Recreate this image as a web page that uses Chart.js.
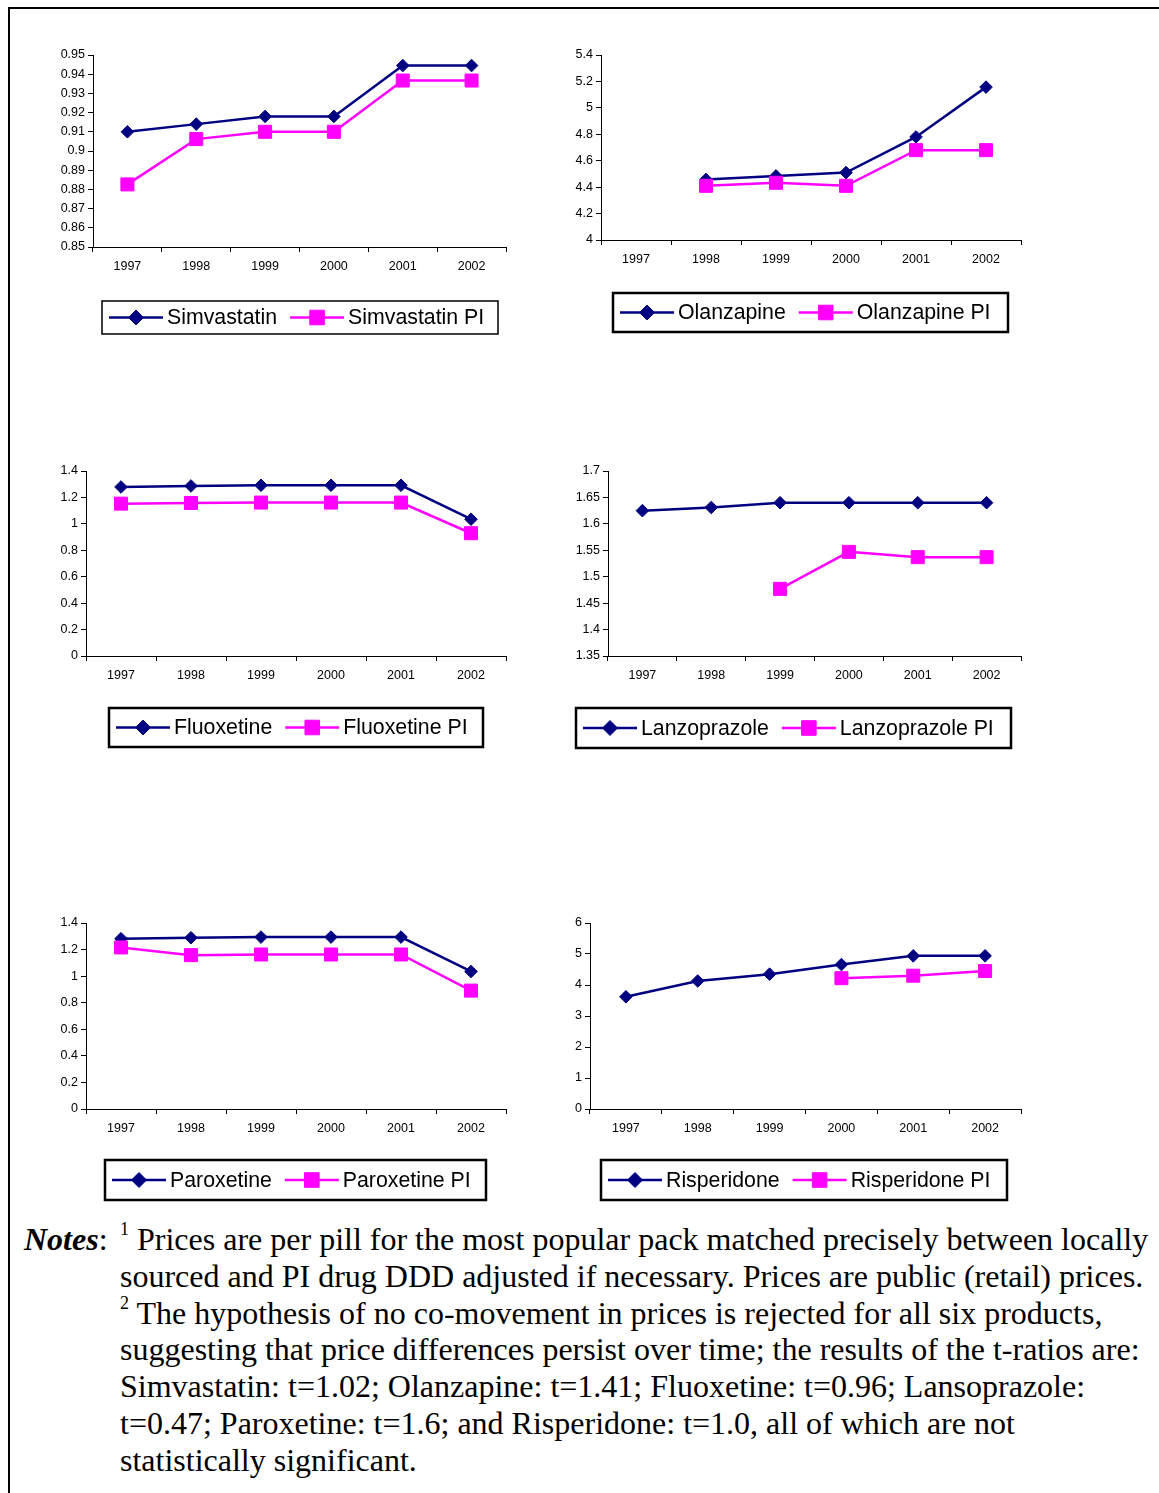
<!DOCTYPE html>
<html><head><meta charset="utf-8">
<script src="https://cdn.jsdelivr.net/npm/chart.js@4.4.0/dist/chart.umd.min.js"></script>
<style>
html,body{margin:0;padding:0;background:#fff;}
body{width:1159px;height:1493px;position:relative;overflow:hidden;}
#frame{position:absolute;left:8px;top:7px;width:1300px;height:1700px;border-left:2px solid #000;border-top:2px solid #000;}
.chartbox{position:absolute;}
.note{position:absolute;font-family:"Liberation Serif","Times New Roman",serif;font-size:32px;line-height:32px;white-space:nowrap;color:#000;}
.note sup{font-size:18px;line-height:0;vertical-align:baseline;position:relative;top:-15px;}
</style></head>
<body>
<div id="frame"></div>
<div class="note" style="left:24px;top:1223px;"><b><i>Notes</i></b>:</div>
<div class="note" style="left:120px;top:1223px;"><sup>1</sup> Prices are per pill for the most popular pack matched precisely between locally</div>
<div class="note" style="left:120px;top:1260px;">sourced and PI drug DDD adjusted if necessary. Prices are public (retail) prices.</div>
<div class="note" style="left:120px;top:1297px;"><sup>2</sup> The hypothesis of no co-movement in prices is rejected for all six products,</div>
<div class="note" style="left:120px;top:1333px;">suggesting that price differences persist over time; the results of the t-ratios are:</div>
<div class="note" style="left:120px;top:1370px;">Simvastatin: t=1.02; Olanzapine: t=1.41; Fluoxetine: t=0.96; Lansoprazole:</div>
<div class="note" style="left:120px;top:1407px;">t=0.47; Paroxetine: t=1.6; and Risperidone: t=1.0, all of which are not</div>
<div class="note" style="left:120px;top:1444px;">statistically significant.</div>
<script>
// ---- data ----
const years = ['1997', '1998', '1999', '2000', '2001', '2002'];

const simvastatin    = [0.910, 0.914, 0.918, 0.918, 0.9445, 0.9445];
const simvastatinPI  = [0.8826, 0.9062, 0.910, 0.910, 0.9367, 0.9367];
const olanzapine     = [null, 4.458, 4.485, 4.51, 4.78, 5.157];
const olanzapinePI   = [null, 4.41, 4.433, 4.41, 4.68, 4.68];
const fluoxetine     = [1.279, 1.287, 1.292, 1.292, 1.292, 1.035];
const fluoxetinePI   = [1.153, 1.158, 1.161, 1.161, 1.161, 0.929];
const lanzoprazole   = [1.625, 1.631, 1.64, 1.64, 1.64, 1.64];
const lanzoprazolePI = [null, null, 1.477, 1.547, 1.537, 1.537];
const paroxetine     = [1.282, 1.289, 1.294, 1.294, 1.294, 1.035];
const paroxetinePI   = [1.216, 1.158, 1.163, 1.163, 1.163, 0.891];
const risperidone    = [3.62, 4.13, 4.35, 4.66, 4.94, 4.94];
const risperidonePI  = [null, null, null, 4.22, 4.30, 4.45];

// y tick range: [min, max, step]
const yTicksSimvastatin  = [0.85, 0.95, 0.01];
const yTicksOlanzapine   = [4, 5.4, 0.2];
const yTicksFluoxetine   = [0, 1.4, 0.2];
const yTicksLanzoprazole = [1.35, 1.7, 0.05];
const yTicksParoxetine   = [0, 1.4, 0.2];
const yTicksRisperidone  = [0, 6, 1];

// ---- layout (page px) ----
const panels = [
  {name: 'Simvastatin',  a: simvastatin,  b: simvastatinPI,  y: yTicksSimvastatin,  area: [93, 55, 506, 247],   legend: [102, 301, 498, 334], lw: 1.5},
  {name: 'Olanzapine',   a: olanzapine,   b: olanzapinePI,   y: yTicksOlanzapine,   area: [601, 55, 1021, 240],  legend: [613, 293, 1008, 332], lw: 2.5},
  {name: 'Fluoxetine',   a: fluoxetine,   b: fluoxetinePI,   y: yTicksFluoxetine,   area: [86, 471, 506, 656],  legend: [109, 708, 483, 747], lw: 2.5},
  {name: 'Lanzoprazole', a: lanzoprazole, b: lanzoprazolePI, y: yTicksLanzoprazole, area: [608, 471, 1021, 656], legend: [576, 708, 1011, 748], lw: 2.5},
  {name: 'Paroxetine',   a: paroxetine,   b: paroxetinePI,   y: yTicksParoxetine,   area: [86, 923, 506, 1109], legend: [105, 1160, 486, 1200], lw: 2.5},
  {name: 'Risperidone',  a: risperidone,  b: risperidonePI,  y: yTicksRisperidone,  area: [590, 923, 1021, 1109], legend: [601, 1160, 1007, 1200], lw: 2.5}
];

const NAVY = '#000080', MAGENTA = '#FF00FF';
const SANS = '"Liberation Sans", Arial, Helvetica, sans-serif';

const boxLegend = {
  id: 'boxLegend',
  afterDraw(chart, args, opts) {
    const ctx = chart.ctx;
    const [x0, y0, x1, y1] = opts.box;
    ctx.save();
    ctx.lineWidth = opts.lineWidth;
    ctx.strokeStyle = '#000';
    ctx.strokeRect(x0, y0, x1 - x0, y1 - y0);
    ctx.font = '21.3px ' + SANS;
    ctx.textBaseline = 'middle';
    ctx.textAlign = 'left';
    const cy = (y0 + y1) / 2;
    let x = x0 + 7;
    chart.data.datasets.forEach(ds => {
      ctx.strokeStyle = ds.borderColor;
      ctx.lineWidth = 2.5;
      ctx.beginPath(); ctx.moveTo(x, cy); ctx.lineTo(x + 54, cy); ctx.stroke();
      ctx.fillStyle = ds.borderColor;
      ctx.lineWidth = 1;
      Chart.helpers.drawPoint(ctx, {pointStyle: ds.pointStyle, radius: ds.legendRadius, borderWidth: 1, rotation: 0}, x + 27, cy);
      x += 58;
      ctx.fillStyle = '#000';
      ctx.fillText(ds.label, x, cy + 1);
      x += ctx.measureText(ds.label).width + 13;
    });
    ctx.restore();
  }
};

function fmt(v) { return String(parseFloat(Number(v).toFixed(4))); }

panels.forEach(p => {
  const padL = 70, padT = 20, padR = 20, padB = 10;
  const cx = p.area[0] - padL, cy = p.area[1] - padT;
  const cw = p.area[2] + padR - cx;
  const ch = p.legend[3] + padB - cy;
  const div = document.createElement('div');
  div.className = 'chartbox';
  div.style.left = cx + 'px'; div.style.top = cy + 'px';
  div.style.width = cw + 'px'; div.style.height = ch + 'px';
  const canvas = document.createElement('canvas');
  canvas.width = cw; canvas.height = ch;
  canvas.style.width = cw + 'px'; canvas.style.height = ch + 'px';
  div.appendChild(canvas);
  document.body.appendChild(div);

  const yW = 60, xH = 30;
  const aL = p.area[0] - cx, aT = p.area[1] - cy, aR = p.area[2] - cx, aB = p.area[3] - cy;

  new Chart(canvas, {
    type: 'line',
    data: {
      labels: years,
      datasets: [
        {label: p.name, data: p.a, borderColor: NAVY, backgroundColor: NAVY, borderWidth: 2.5,
         pointStyle: 'rectRot', pointRadius: 6.3, pointBorderWidth: 1, pointBackgroundColor: NAVY, pointBorderColor: NAVY,
         legendRadius: 7.5, order: 1, tension: 0, spanGaps: false, clip: false},
        {label: p.name + ' PI', data: p.b, borderColor: MAGENTA, backgroundColor: MAGENTA, borderWidth: 2.5,
         pointStyle: 'rect', pointRadius: 9.2, pointBorderWidth: 1, pointBackgroundColor: MAGENTA, pointBorderColor: MAGENTA,
         legendRadius: 10.3, order: 0, tension: 0, spanGaps: false, clip: false}
      ]
    },
    options: {
      responsive: false, animation: false, devicePixelRatio: 1,
      events: [],
      layout: {padding: {left: aL - yW, top: aT, right: cw - aR, bottom: ch - aB - xH}},
      plugins: {
        legend: {display: false}, tooltip: {enabled: false},
        boxLegend: {box: [p.legend[0] - cx, p.legend[1] - cy, p.legend[2] - cx, p.legend[3] - cy], lineWidth: p.lw}
      },
      scales: {
        x: {
          type: 'category', offset: true,
          grid: {offset: true, drawOnChartArea: false, drawTicks: true, tickLength: 5, color: '#000', lineWidth: 1},
          border: {display: true, color: '#000', width: 1},
          ticks: {color: '#000', font: {family: SANS, size: 12.5}, padding: 7, maxRotation: 0, autoSkip: false},
          afterFit: s => { s.height = xH; }
        },
        y: {
          min: p.y[0], max: p.y[1],
          grid: {drawOnChartArea: false, drawTicks: true, tickLength: 5, color: '#000', lineWidth: 1},
          border: {display: true, color: '#000', width: 1},
          ticks: {stepSize: p.y[2], autoSkip: false, color: '#000', font: {family: SANS, size: 12.5}, padding: 3, callback: v => fmt(v)},
          afterFit: s => { s.width = yW; }
        }
      }
    },
    plugins: [boxLegend]
  });
});
</script>
</body></html>
